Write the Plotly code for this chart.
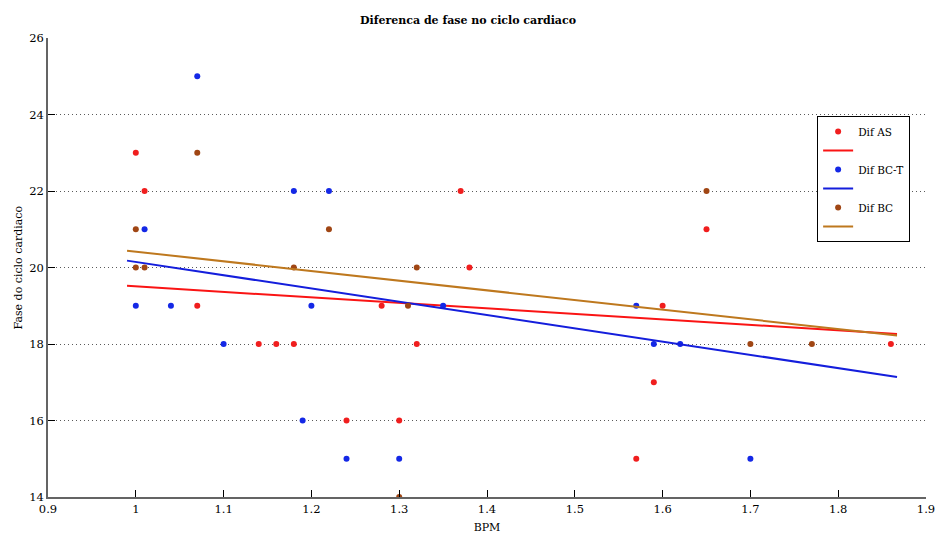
import numpy as np
import plotly.graph_objects as go

# Dif AS
as_x = [1.00, 1.01, 1.07, 1.14, 1.16, 1.18, 1.24, 1.28, 1.30, 1.32, 1.37, 1.38, 1.57, 1.59, 1.60, 1.65, 1.86]
as_y = [23, 22, 19, 18, 18, 18, 16, 19, 16, 18, 22, 20, 15, 17, 19, 21, 18]
# Dif BC-T
bct_x = [1.00, 1.01, 1.04, 1.07, 1.10, 1.18, 1.19, 1.20, 1.22, 1.24, 1.30, 1.35, 1.57, 1.59, 1.62, 1.70]
bct_y = [19, 21, 19, 25, 18, 22, 16, 19, 22, 15, 15, 19, 19, 18, 18, 15]
# Dif BC
bc_x = [1.00, 1.00, 1.01, 1.07, 1.18, 1.22, 1.30, 1.31, 1.32, 1.65, 1.70, 1.77]
bc_y = [21, 20, 20, 23, 20, 21, 14, 19, 20, 22, 18, 18]

# trend lines as drawn in the picture (slope, intercept), over this BPM span
trend_slope = [-1.437, -3.47, -2.53]
trend_intercept = [20.943, 23.615, 22.945]
trend_span = [0.99, 1.867]

names = ["Dif AS", "Dif BC-T", "Dif BC"]
xs_all = [as_x, bct_x, bc_x]
ys_all = [as_y, bct_y, bc_y]
marker_colors = ["rgb(240,30,30)", "rgb(20,40,230)", "rgb(160,70,20)"]
line_colors = ["rgb(250,20,20)", "rgb(20,30,220)", "rgb(190,120,30)"]

fig = go.Figure()
for i in range(3):
    fig.add_trace(go.Scatter(x=xs_all[i], y=ys_all[i], mode="markers", name=names[i],
                             marker=dict(color=marker_colors[i], size=6)))
    fx = np.array(trend_span)
    fig.add_trace(go.Scatter(x=fx, y=trend_slope[i] * fx + trend_intercept[i], mode="lines",
                             name=" ", line=dict(color=line_colors[i], width=2)))

font = "DejaVu Serif"
axis_col = "rgb(100,100,100)"
fig.update_layout(
    width=936, height=534,
    margin=dict(l=48, r=10, t=38, b=37),
    paper_bgcolor="white", plot_bgcolor="white",
    font=dict(family=font, size=11, color="black"),
    title=dict(text="<b>Diferenca de fase no ciclo cardiaco</b>", x=0.5, xanchor="center",
               y=1 - 20 / 534, yanchor="middle", font=dict(size=11, family=font)),
    showlegend=True,
    legend=dict(x=0.876, y=0.83, xanchor="left", yanchor="top",
                bgcolor="white", bordercolor="black", borderwidth=1,
                font=dict(size=10.5, family=font), tracegroupgap=0, itemwidth=30),
    annotations=[dict(text="Fase do ciclo cardiaco", xref="paper", yref="paper",
                      x=-30 / 878, y=0.5, xanchor="center", yanchor="middle",
                      textangle=-90, showarrow=False, font=dict(size=11, family=font))],
)
fig.update_xaxes(range=[0.9, 1.9], dtick=0.1, tick0=0.9, showgrid=False, zeroline=False,
                 showline=True, linecolor=axis_col, linewidth=1.5, mirror=False,
                 ticks="inside", ticklen=7, tickcolor="black", ticklabeloverflow="allow",
                 tickfont=dict(size=11.5), automargin=False,
                 title=dict(text="BPM", font=dict(size=11)))
fig.update_yaxes(range=[14, 26], dtick=2, showgrid=True, gridcolor="rgb(90,90,90)",
                 griddash="1px,3px", gridwidth=1, zeroline=False,
                 showline=True, linecolor=axis_col, linewidth=1.5, mirror=False,
                 ticks="inside", ticklen=7, tickcolor="black", tickfont=dict(size=11.5),
                 automargin=False)

fig.write_html("out.html")
